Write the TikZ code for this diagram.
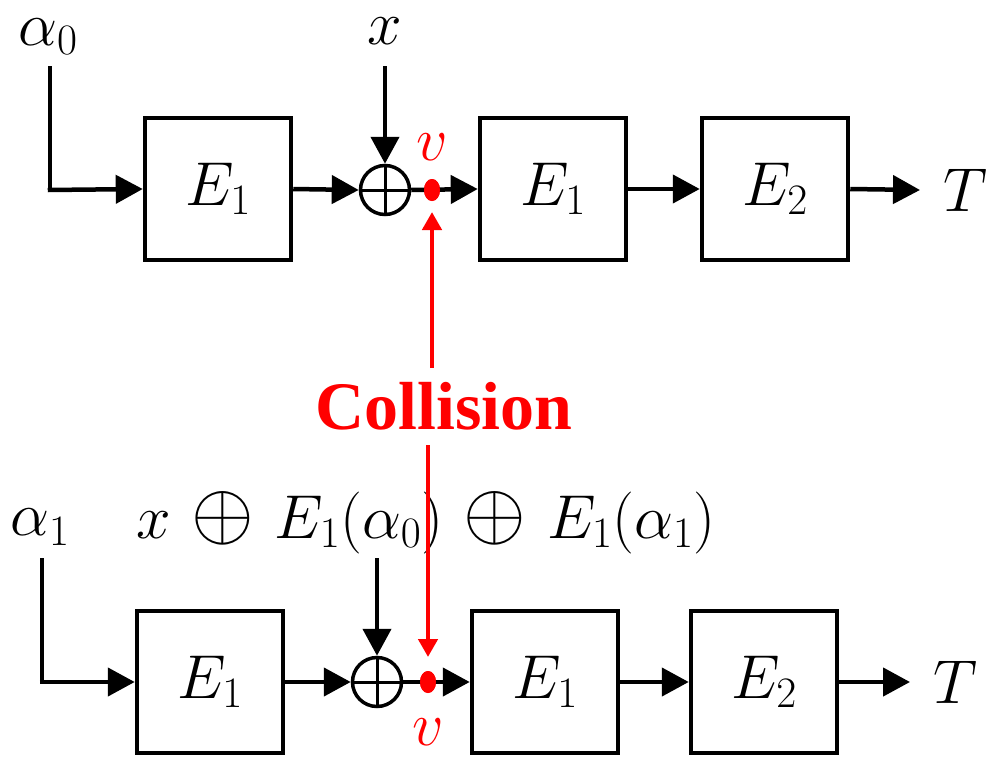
\RequirePackage{fix-cm}
\documentclass[tikz,border=0pt]{standalone}
\usepackage{fontspec}
\usepackage{amsmath}
\newfontfamily\colfont{Liberation Serif}
\usetikzlibrary{arrows.meta,shapes.geometric}
\newcommand{\bxor}{\mathbin{\mkern2mu\scalebox{1.3}{$\oplus$}\mkern2mu}}
\begin{document}
\begin{tikzpicture}[x=1pt,y=-1pt,
  every node/.style={font=\fontsize{62}{70}\selectfont},
  blk/.style={draw,line width=4.5pt,minimum width=146pt,minimum height=142pt,inner sep=0pt},
  xorc/.style={draw,circle,line width=3.5pt,minimum size=49pt,inner sep=0pt,
     path picture={\draw[line width=3pt] (path picture bounding box.north) -- (path picture bounding box.south)
                     (path picture bounding box.west) -- (path picture bounding box.east);}},
  vdot/.style={ellipse,fill=red,minimum width=16pt,minimum height=22pt,inner sep=0pt},
  arr/.style={line width=4.5pt,-{Triangle[length=27pt,width=28pt]}},
  rarr/.style={line width=4.5pt,red,-{Triangle[length=18pt,width=19pt]}},
  lbl/.style={inner sep=0pt}
]
\useasboundingbox (0,0) rectangle (986,758);

% ---------- top row ----------
\node[lbl] (a0) at (48,37) {$\alpha_0$};
\coordinate (a0s) at (50,66);
\node[blk] (t1) at (218,189) {$E_1$};
\node[xorc] (tx) at (385,190) {};
\node[lbl] (txl) at (385,31) {$x$};
\coordinate (txs) at (385,66);
\node[vdot] (tv) at (432,190) {};
\node[lbl,red] (tvl) at (432,147) {$v$};
\node[blk] (t2) at (553,189) {$E_1$};
\node[blk] (t3) at (775,189) {$E_2$};
\coordinate (tTe) at (920,190);
\node[lbl] (tT) at (965,190) {$T$};

\draw[line width=4.5pt] (a0s) -- (50,190);
\draw[arr] (47.75,190) -- (t1.west);
\draw[arr] (t1.east) -- (tx.west);
\draw[arr] (txs) -- (tx.north);
\draw[arr] (tx.east) -- (t2.west);
\node[vdot] at (tv) {};
\draw[arr] (t2.east) -- (t3.west);
\draw[arr] (t3.east) -- (tTe);

% ---------- collision ----------
\node[lbl,red,font=\fontsize{68}{74}\selectfont\colfont\bfseries] (col) at (444,406) {Collision};
\coordinate (c1) at (432,368);
\coordinate (c2) at (428,445);
\draw[rarr] (c1) -- (432,212);

% ---------- bottom row ----------
\node[lbl] (a1) at (40,527) {$\alpha_1$};
\coordinate (a1s) at (42,558);
\node[lbl,anchor=base] (bxl) at (426,538) {$x\bxor E_1(\alpha_0)\bxor E_1(\alpha_1)$};
\coordinate (bxs) at (377,558);
\node[blk] (b1) at (210,682) {$E_1$};
\node[xorc] (bx) at (377,682) {};
\node[vdot] (bv) at (428,682) {};
\node[lbl,red] (bvl) at (428,732) {$v$};
\node[blk] (b2) at (545,682) {$E_1$};
\node[blk] (b3) at (764,682) {$E_2$};
\coordinate (bTe) at (910,682);
\node[lbl] (bT) at (955,682) {$T$};

\draw[line width=4.5pt] (a1s) -- (42,682);
\draw[arr] (39.75,682) -- (b1.west);
\draw[arr] (b1.east) -- (bx.west);
\draw[arr] (bxs) -- (bx.north);
\draw[arr] (bx.east) -- (b2.west);
\node[vdot] at (bv) {};
\draw[arr] (b2.east) -- (b3.west);
\draw[arr] (b3.east) -- (bTe);

\draw[rarr] (c2) -- (428,657);
\end{tikzpicture}
\end{document}
